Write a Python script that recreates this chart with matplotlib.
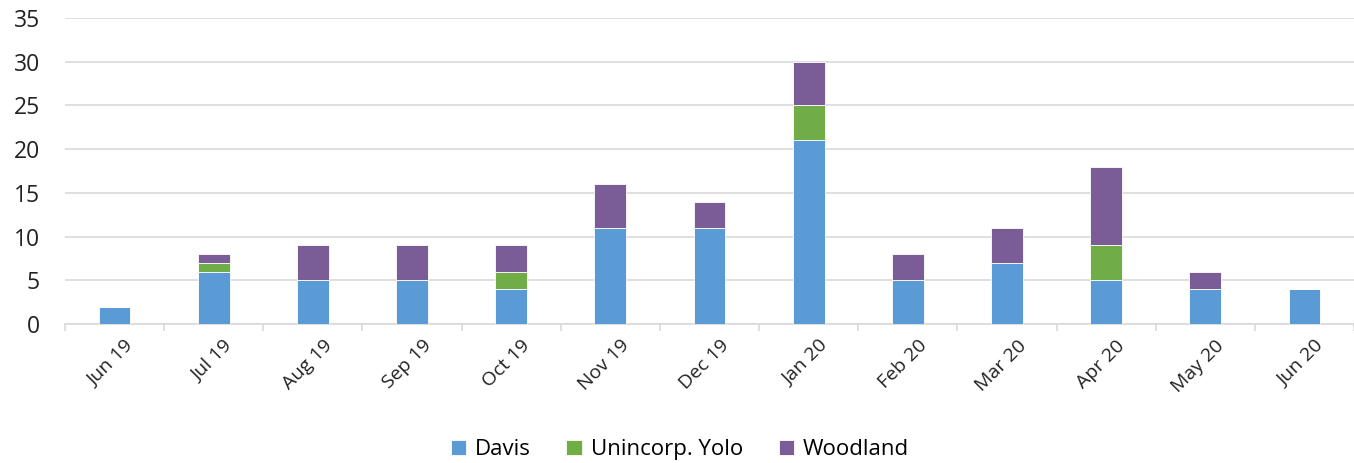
import matplotlib.pyplot as plt
import numpy as np

months = ['Jun 19', 'Jul 19', 'Aug 19', 'Sep 19', 'Oct 19', 'Nov 19', 'Dec 19',
          'Jan 20', 'Feb 20', 'Mar 20', 'Apr 20', 'May 20', 'Jun 20']
davis = [2, 6, 5, 5, 4, 11, 11, 21, 5, 7, 5, 4, 4]
yolo = [0, 1, 0, 0, 2, 0, 0, 4, 0, 0, 4, 0, 0]
woodland = [0, 1, 4, 4, 3, 5, 3, 5, 3, 4, 9, 2, 0]

SERIES = ['Davis', 'Unincorp. Yolo', 'Woodland']
COLORS = ['#5B9BD5', '#70AD47', '#7A5C96']

plt.rcParams['font.family'] = ['Open Sans', 'DejaVu Sans']

fig = plt.figure(figsize=(13.54, 4.63), dpi=100)
ax = fig.add_axes([0.048, 0.30, 0.952, 0.661])

x = np.arange(len(months))
bottom = np.zeros(len(months))
for name, vals, color in zip(SERIES, [davis, yolo, woodland], COLORS):
    ax.bar(x, vals, width=0.32, bottom=bottom, color=color, label=name,
           edgecolor='white', linewidth=0.6, zorder=3)
    bottom += np.array(vals)

ax.set_ylim(0, 35)
ax.set_yticks(range(0, 36, 5))
ax.set_xlim(-0.5, len(months) - 0.5)
ax.yaxis.grid(True, color='#d9d9d9', linewidth=1.2, zorder=0)
ax.set_axisbelow(True)

for side in ['top', 'right', 'left']:
    ax.spines[side].set_visible(False)
ax.spines['bottom'].set_color('#d9d9d9')
ax.spines['bottom'].set_linewidth(1.2)

ax.tick_params(axis='y', length=0, labelsize=16.5, pad=18, colors='#222222')
ax.set_xticks(x + 0.1)
ax.set_xticklabels(months, rotation=45, ha='right', rotation_mode='anchor',
                   fontsize=14)
ax.tick_params(axis='x', which='major', length=0, pad=9, colors='#222222')
ax.set_xticks(np.arange(-0.5, len(months), 1.0), minor=True)
ax.tick_params(axis='x', which='minor', length=5, color='#d9d9d9', width=1.2)

ax.legend(loc='center', bbox_to_anchor=(0.477, -0.41), ncol=3, frameon=False,
          fontsize=16, handlelength=0.7, handleheight=0.7, columnspacing=1.6,
          handletextpad=0.4)

fig.savefig('out.png', dpi=100)
